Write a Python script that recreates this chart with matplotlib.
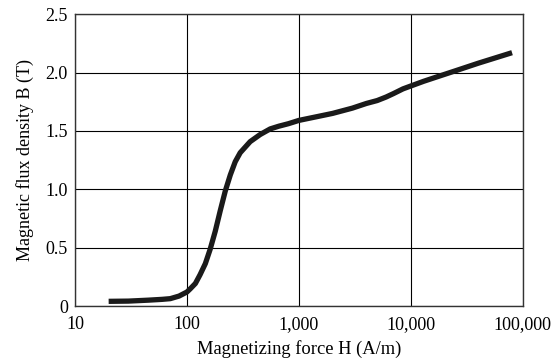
import matplotlib.pyplot as plt
import numpy as np
from matplotlib.ticker import FixedLocator, FixedFormatter

# B-H curve values
H = [20, 30, 45, 60, 71, 85, 100, 107, 119, 131, 146, 161, 179, 198, 220, 244, 270,
     299, 367, 451, 554, 660, 808, 1000, 1500, 2000, 3000, 4000, 5000, 6000, 7000,
     8500, 10000, 13000, 18000, 25000, 40000, 80000]
B = [0.04, 0.042, 0.05, 0.057, 0.063, 0.085, 0.12, 0.147, 0.193, 0.268, 0.363, 0.484, 0.64,
     0.813, 0.985, 1.123, 1.236, 1.313, 1.408, 1.469, 1.517, 1.54, 1.562, 1.59, 1.625, 1.65,
     1.695, 1.735, 1.76, 1.79, 1.82, 1.86, 1.885, 1.925, 1.97, 2.015, 2.08, 2.17]

x_ticks = [10, 100, 1000, 10000, 100000]
x_labels = ["10", "100", "1,000", "10,000", "100,000"]
y_ticks = [0, 0.5, 1.0, 1.5, 2.0, 2.5]
y_labels = ["0", "0.5", "1.0", "1.5", "2.0", "2.5"]

plt.rcParams['font.family'] = ['Liberation Serif', 'DejaVu Serif']

fig, ax = plt.subplots(figsize=(5.51, 3.63), dpi=100)
fig.subplots_adjust(left=0.136, right=0.949, top=0.961, bottom=0.157)

ax.plot(H, B, color='#1a1a1a', linewidth=3.8, solid_capstyle='butt', solid_joinstyle='round')
ax.set_xscale('log')
ax.set_xlim(10, 100000)
ax.set_ylim(0, 2.5)
ax.xaxis.set_major_locator(FixedLocator(x_ticks))
ax.xaxis.set_major_formatter(FixedFormatter(x_labels))
ax.xaxis.set_minor_locator(FixedLocator([]))
ax.set_yticks(y_ticks)
ax.set_yticklabels(y_labels)
ax.tick_params(length=0, labelsize=13)
ax.tick_params(axis='x', pad=7)
ax.tick_params(axis='y', pad=5)
ax.grid(True, color='black', linewidth=0.8)
for s in ax.spines.values():
    s.set_linewidth(1.0)
    s.set_color('#333333')

ax.set_xlabel("Magnetizing force H (A/m)", fontsize=13.3, labelpad=5)
ax.set_ylabel("Magnetic flux density B (T)", fontsize=13, labelpad=8)

plt.savefig("out.png", dpi=100)
